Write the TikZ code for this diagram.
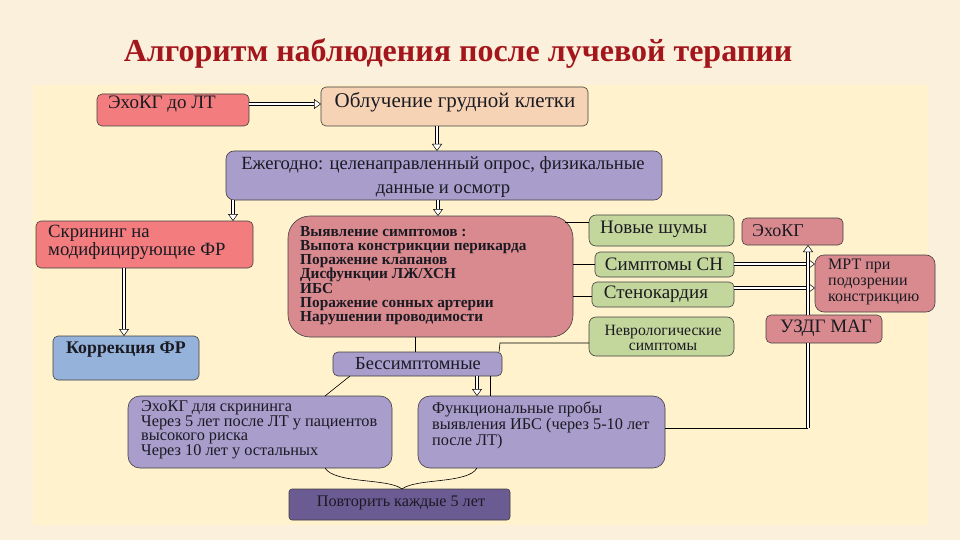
\documentclass[tikz,border=0pt]{standalone}
\usepackage{fontspec}
\setmainfont{Liberation Serif}
\usetikzlibrary{arrows.meta,calc}
\definecolor{bgout}{HTML}{FBF0DC}
\definecolor{bgin}{HTML}{FFF2CD}
\definecolor{cred}{HTML}{F37D7E}
\definecolor{cpeach}{HTML}{F7D3B5}
\definecolor{clav}{HTML}{A89DCB}
\definecolor{crose}{HTML}{D98A8F}
\definecolor{cgreen}{HTML}{C3D69B}
\definecolor{cblue}{HTML}{95B2DA}
\definecolor{cdark}{HTML}{6B5B93}
\definecolor{ctitle}{HTML}{A3161C}
\definecolor{ctext}{HTML}{1A1A22}
\newcommand\bx[7][5pt]{%
  \node[box, fill=#3, rounded corners=#1, minimum width={(#6-#4)*1pt}, minimum height={(#7-#5)*1pt}]
    (#2) at ({(#4+#6)/2},{(#5+#7)/2}) {};}
\newcommand\fs[2]{\fontsize{#1}{#2}\selectfont}
\begin{document}
\begin{tikzpicture}[x=1pt,y=-1pt,
  box/.style={draw=black!75, line width=0.6pt, inner sep=0pt, outer sep=0pt},
  txt/.style={inner sep=0pt, text=ctext, font=\fs{19}{20}},
  sm/.style={inner sep=0pt, text=ctext, font=\fs{16}{15}, align=left},
  plain/.style={draw=black, line width=0.6pt},
  hol/.style={double=white, double distance=2.4pt, line width=0.5pt,
     -{Triangle[open, fill=white, length=7pt, width=10pt, line width=0.5pt]}},
  holl/.style={double=white, double distance=2.4pt, line width=0.5pt}]
\useasboundingbox (0,0) rectangle (960,540);
\fill[bgout] (0,0) rectangle (960,540);
\fill[bgin] (33,85) rectangle (928,525);

\node[inner sep=0pt, text=ctitle, font=\fs{32}{34}\bfseries] (title) at (458,54) {Алгоритм наблюдения после лучевой терапии};

% boxes
\bx{echo0}{cred}{97}{94}{249}{126}
\bx{obl}{cpeach}{321}{87}{588}{126}
\bx[8pt]{ann}{clav}{226}{151}{662}{200}
\bx{scr}{cred}{36}{221}{253}{268}
\bx{kor}{cblue}{53}{336}{199}{380}
\bx[22pt]{sym}{crose}{288}{216}{573}{337}
\bx[7pt]{shum}{cgreen}{589}{215}{734}{246}
\bx[5pt]{sn}{cgreen}{595}{252}{734}{277}
\bx[5pt]{sten}{cgreen}{592}{282}{734}{307}
\bx[7pt]{nevr}{cgreen}{589}{317}{734}{356}
\bx{echo1}{crose}{742}{218}{843}{245}
\bx[9pt]{mrt}{crose}{815}{255}{935}{312}
\bx{uzdg}{crose}{766}{315}{882}{343}
\bx{bes}{clav}{333}{352}{502}{376}
\bx[12pt]{scrn}{clav}{128}{396}{392}{468}
\bx[12pt]{func}{clav}{418}{396}{665}{468}
\bx[3pt]{pov}{cdark}{289}{489}{510}{520}

% texts
\node[txt, anchor=west] (t-echo0) at (108,104) {ЭхоКГ до ЛТ};
\node[txt, font=\fs{21}{22}] (t-obl) at (455,102) {Облучение грудной клетки};
\node[txt, font=\fs{18.6}{24}, align=center] (t-ann) at (443,177) {Ежегодно: целенаправленный опрос, физикальные\\данные и осмотр};
\node[txt, anchor=west, font=\fs{18.7}{18}, align=left] (t-scr) at (48,242) {Скрининг на\\модифицирующие ФР};
\node[txt, font=\fs{17.8}{18}\bfseries] (t-kor) at (126,350) {Коррекция ФР};
\node[sm, anchor=north west, font=\fs{15.3}{14.2}\bfseries] (t-sym) at (300,226) {Выявление симптомов :\\Выпота констрикции перикарда\\Поражение клапанов\\Дисфункции ЛЖ/ХСН\\ИБС\\Поражение сонных артерии\\Нарушении проводимости};
\node[txt, anchor=west] (t-shum) at (600,229) {Новые шумы};
\node[txt] (t-sn) at (664,264) {Симптомы СН};
\node[txt] (t-sten) at (656,294) {Стенокардия};
\node[sm, align=center, font=\fs{15.7}{15.5}] (t-nevr) at (663,338) {Неврологические\\симптомы};
\node[txt, anchor=west, font=\fs{18}{19}] (t-echo1) at (752,231) {ЭхоКГ};
\node[sm, anchor=west, font=\fs{16}{16}] (t-mrt) at (828,282) {МРТ при\\подозрении\\констрикцию};
\node[txt] (t-uzdg) at (826,328) {УЗДГ МАГ};
\node[txt, font=\fs{18.4}{19}] (t-bes) at (418,364) {Бессимптомные};
\node[sm, anchor=north west, font=\fs{16.3}{14.5}] (t-scrn) at (141,401) {ЭхоКГ для скрининга\\Через 5 лет после ЛТ у пациентов\\высокого риска\\Через 10 лет у остальных};
\node[sm, anchor=north west, font=\fs{16.3}{14.5}] (t-func) at (432,402) {Функциональные пробы\\выявления ИБС (через 5-10 лет\\после ЛТ)};
\node[txt, font=\fs{16.2}{17}] (t-pov) at (401,503) {Повторить каждые 5 лет};

% connectors
\coordinate (vbot) at (808,428);
\coordinate (jn) at (500,343);
\draw[hol] (echo0.east |- 0,104) -- (obl.west |- 0,104);
\draw[hol] (obl.south -| 437,0) -- (ann.north -| 437,0);
\draw[hol] (ann.south -| 233,0) -- (scr.north -| 233,0);
\draw[hol] (ann.south -| 438,0) -- (sym.north -| 438,0);
\draw[hol] (scr.south -| 124,0) -- (kor.north -| 124,0);
\draw[hol] (bes.south -| 477,0) -- (func.north -| 477,0);
\draw[plain] (bes.south -| 490,0) -- (func.north -| 490,0);
\draw[plain] (sym.south -| 415,0) -- (bes.north -| 415,0);
\draw[plain] (nevr.west |- jn) -- (jn) -- (bes.north -| 499,0);
\draw[plain] ([xshift=-8pt]sym.east |- 0,222) -- (shum.west |- 0,222);
\draw[plain] (sym.east |- 0,264) -- (sn.west |- 0,264);
\draw[plain] (sym.east |- 0,296) -- (sten.west |- 0,296);
\draw[hol] (sn.east |- 0,264) -- (mrt.west |- 0,264);
\draw[hol] (sten.east |- 0,288) -- (mrt.west |- 0,288);
\draw[plain] (func.east |- vbot) -- (vbot);
\draw[holl] (vbot) -- (uzdg.south -| vbot);
\draw[hol] (uzdg.north -| vbot) -- (echo1.south -| vbot);
\draw[plain] (bes.south -| 350,0) -- (scrn.north -| 325,0);
\draw[plain] (scrn.south -| 325,0) .. controls (335,484) and (388,478) .. (pov.north -| 402,0);
\draw[plain] (func.south -| 477,0) .. controls (468,484) and (416,478) .. (pov.north -| 402,0);
\end{tikzpicture}
\end{document}
